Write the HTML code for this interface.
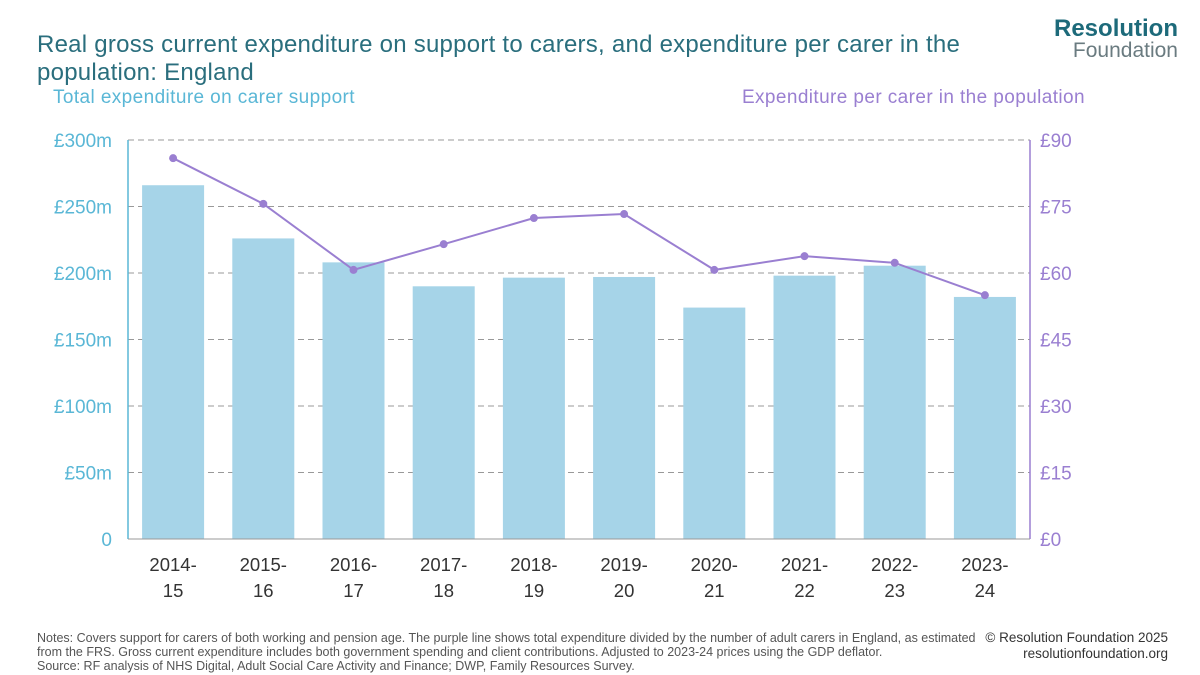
<!DOCTYPE html>
<html><head><meta charset="utf-8">
<style>
body{margin:0;width:1200px;height:675px;background:#fff;font-family:"Liberation Sans",sans-serif;overflow:hidden;position:relative}
.t{position:absolute;white-space:nowrap}
</style></head><body>
<div class="t" style="left:37px;top:31px;font-size:24px;letter-spacing:0.25px;line-height:28px;color:#2a6e7d">Real gross current expenditure on support to carers, and expenditure per carer in the<br>population: England</div>
<div class="t" style="left:1040px;top:18px;text-align:right;width:138px;line-height:22px">
<div style="font-size:24px;font-weight:bold;color:#1d6a7a">Resolution</div>
<div style="font-size:21px;color:#6a7b80">Foundation</div></div>
<div class="t" style="left:53px;top:87px;font-size:19px;letter-spacing:0.4px;color:#5ab7d6">Total expenditure on carer support</div>
<div class="t" style="right:115px;top:87px;font-size:19px;letter-spacing:0.4px;color:#9a7fd1">Expenditure per carer in the population</div>
<svg id="c" width="1200" height="675" style="position:absolute;left:0;top:0"></svg>
<div class="t" style="left:37px;top:631px;font-size:12.5px;line-height:14px;color:#555">Notes: Covers support for carers of both working and pension age. The purple line shows total expenditure divided by the number of adult carers in England, as estimated<br>from the FRS. Gross current expenditure includes both government spending and client contributions. Adjusted to 2023-24 prices using the GDP deflator.<br>Source: RF analysis of NHS Digital, Adult Social Care Activity and Finance; DWP, Family Resources Survey.</div>
<div class="t" style="right:32px;top:630px;font-size:13.5px;line-height:16px;color:#333;text-align:right">© Resolution Foundation 2025<br>resolutionfoundation.org</div>
<script>
const categories=["2014-15","2015-16","2016-17","2017-18","2018-19","2019-20","2020-21","2021-22","2022-23","2023-24"];
const totalSpend=[266,226,208,190,196.5,197,174,198,205.5,182];
const perCarer=[85.9,75.6,60.7,66.5,72.4,73.3,60.7,63.8,62.3,55];
const leftTicks=[0,50,100,150,200,250,300];
const rightTicks=[0,15,30,45,60,75,90];
const NS="http://www.w3.org/2000/svg",svg=document.getElementById('c');
const x0=128,x1=1030,yT=140,yB=539;
const band=(x1-x0)/categories.length;
const xc=i=>x0+band*(i+0.5);
const yL=v=>yB-(v/300)*(yB-yT);
const yR=v=>yB-(v/90)*(yB-yT);
function mk(t,a,txt){const e=document.createElementNS(NS,t);for(const k in a)e.setAttribute(k,a[k]);if(txt!=null)e.textContent=txt;svg.appendChild(e);return e;}
leftTicks.forEach((v,i)=>{const y=yL(v);
 if(v>0){const g=mk('line',{x1:x0,x2:x1,y1:y,y2:y,stroke:'#999','stroke-dasharray':'6,4','stroke-width':1});
 
 }
 const t=mk('text',{x:x0-16,y:y+7,'text-anchor':'end','font-size':19,fill:'#5ab7d6'},v===0?'0':'£'+v+'m');
 
 
 const r=mk('text',{x:x1+10,y:y+7,'font-size':19,fill:'#9a7fd1'},'£'+rightTicks[i]);
 
 
});
totalSpend.forEach((v,i)=>{const w=62;
 const b=mk('rect',{x:xc(i)-w/2,y:yL(v),width:w,height:yB-yL(v),fill:'#a6d4e8'});
 
 
 const p=categories[i].split('-');
 const l=mk('text',{x:xc(i),y:yB+32,'text-anchor':'middle','font-size':18.5,fill:'#333'});
 
 
 const a=document.createElementNS(NS,'tspan');a.setAttribute('x',xc(i));a.textContent=p[0]+'-';l.appendChild(a);
 const c=document.createElementNS(NS,'tspan');c.setAttribute('x',xc(i));c.setAttribute('dy',26);c.textContent=p[1];l.appendChild(c);
});
const la=mk('line',{x1:x0,x2:x0,y1:yT,y2:yB,stroke:'#5ab7d6','stroke-width':1.5});


const ra=mk('line',{x1:x1,x2:x1,y1:yT,y2:yB,stroke:'#9a7fd1','stroke-width':1.5});


const xa=mk('line',{x1:x0,x2:x1,y1:yB,y2:yB,stroke:'#999','stroke-width':1});


const ln=mk('polyline',{points:perCarer.map((v,i)=>xc(i)+','+yR(v)).join(' '),fill:'none',stroke:'#9a7fd1','stroke-width':2});


perCarer.forEach((v,i)=>{const d=mk('circle',{cx:xc(i),cy:yR(v),r:4,fill:'#9a7fd1'});
 
 });
</script>
</body></html>
